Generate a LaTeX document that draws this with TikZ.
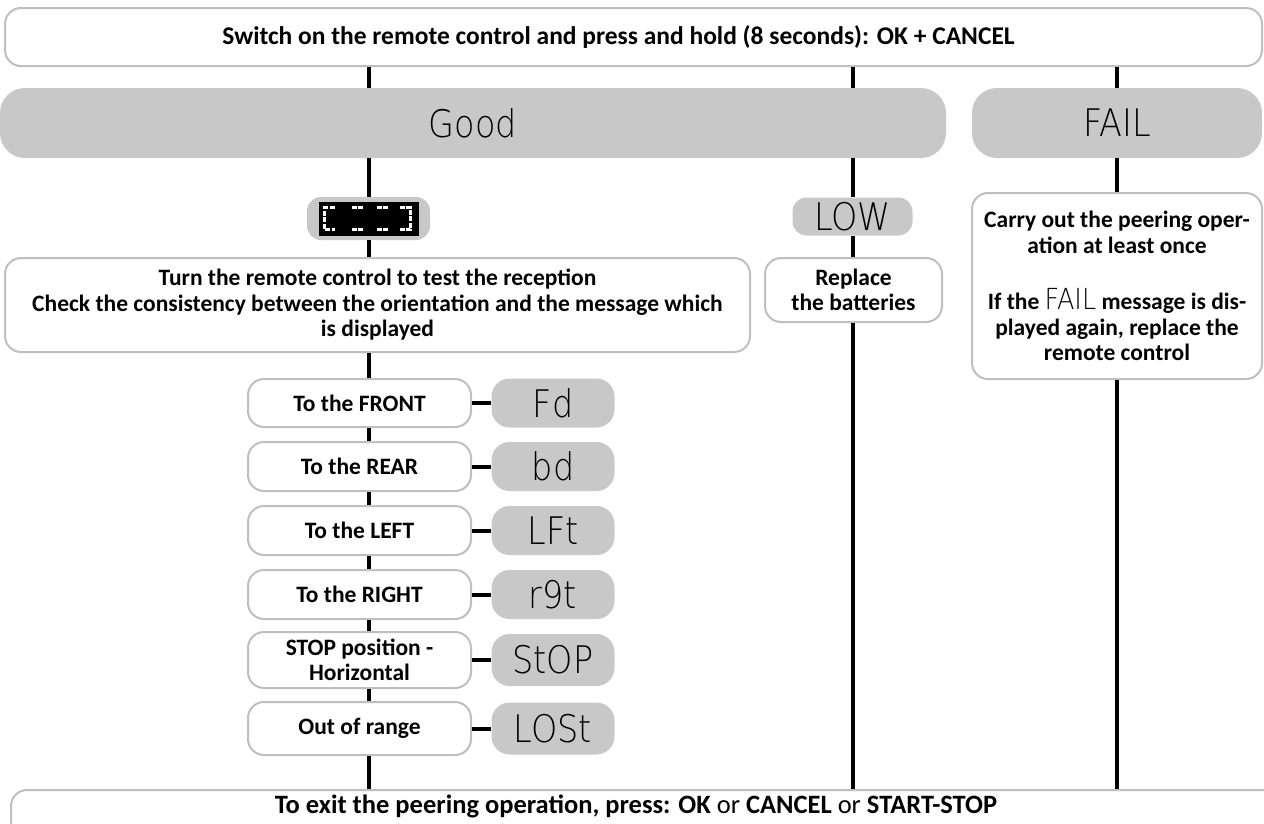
\documentclass[tikz,border=0pt]{standalone}
\usepackage{fontspec}
\setmainfont{Carlito}
\newfontfamily\seg{DejaVu Sans}[UprightFont=* ExtraLight, FakeStretch=0.88]
\definecolor{boxgray}{HTML}{BFBFBF}
\definecolor{dispgray}{HTML}{C8C8C8}
\begin{document}
\begin{tikzpicture}[x=1pt,y=-1pt,
  wbox/.style={draw=boxgray, line width=2pt, rounded corners=16pt, fill=white,
    font=\bfseries\fontsize{23.5}{25.5}\selectfont, align=center, inner sep=0pt},
  gbox/.style={fill=dispgray, rounded corners=18pt, inner sep=0pt,
    font=\seg\fontsize{38}{38}\selectfont},
  conn/.style={line width=4pt, black},
  seg/.style={white, line width=3pt, dash pattern=on 5pt off 1.5pt}]
\useasboundingbox (0,0) rectangle (1264,823);

% top
\node[wbox, minimum width=1257, minimum height=58, font=\bfseries\fontsize{25.5}{27}\selectfont] (top) at (633.5,37)
  {\hspace*{-30pt}Switch on the remote control and press and hold (8 seconds): OK + CANCEL};
% result bars
\node[gbox, rounded corners=25pt, minimum width=946, minimum height=70] (good) at (473,123) {Good};
\node[gbox, rounded corners=25pt, minimum width=290, minimum height=70] (fail) at (1117,123) {FAIL};

% black display
\node[gbox, rounded corners=14pt, minimum width=123, minimum height=43] (disp) at (368.5,218.5) {};
\node[fill=black, minimum width=100, minimum height=34, inner sep=0pt] (dispin) at (disp.center) {};
\begin{scope}[shift={(dispin.center)}]
  \draw[seg] (-34,-11) -- (-44,-11) -- (-44,11) -- (-34,11);
  \draw[seg] (-17,-11) -- (-6,-11);
  \draw[seg] (-17,11) -- (-6,11);
  \draw[seg] (8,-11) -- (20,-11);
  \draw[seg] (8,11) -- (20,11);
  \draw[seg] (31,-11) -- (42,-11) -- (42,11) -- (31,11);
\end{scope}

\node[gbox, rounded corners=14pt, minimum width=120, minimum height=38] (low) at (852.5,216.5) {LOW};

\node[wbox, minimum width=745, minimum height=94] (turn) at (377.5,305)
  {Turn the remote control to test the reception\\
   Check the consistency between the orientation and the message which\\
   is displayed};
\node[wbox, minimum width=177, minimum height=64] (repl) at (853.5,290)
  {Replace\\the batteries};
\node[wbox, minimum width=290, minimum height=186] (failtxt) at (1117,286)
  {Carry out the peering oper-\\ation at least once\\[31pt]
   If the {\mdseries\seg\fontsize{29}{29}\selectfont FAIL} message is dis-\\
   played again, replace the\\remote control};

% rows
\node[wbox, minimum width=223, minimum height=48] (front) at (359.5,403) {To the FRONT};
\node[gbox, minimum width=123, minimum height=49] (fd) at (553,403) {Fd};
\node[wbox, minimum width=223, minimum height=49] (rear) at (359.5,466.5) {To the REAR};
\node[gbox, minimum width=123, minimum height=49] (bd) at (553,466.5) {bd};
\node[wbox, minimum width=223, minimum height=49] (left) at (359.5,530.5) {To the LEFT};
\node[gbox, minimum width=123, minimum height=49] (lft) at (553,530.5) {LFt};
\node[wbox, minimum width=223, minimum height=49] (right) at (359.5,594.5) {To the RIGHT};
\node[gbox, minimum width=123, minimum height=49] (rgt) at (553,594.5) {r9t};
\node[wbox, minimum width=223, minimum height=56] (stop) at (359.5,660) {STOP position -\\Horizontal};
\node[gbox, minimum width=123, minimum height=52] (stp) at (553,660) {StOP};
\node[wbox, minimum width=223, minimum height=53] (out) at (359.5,728.5) {Out of range};
\node[gbox, minimum width=123, minimum height=52] (lost) at (553,728.5) {LOSt};

% bottom
\node[wbox, anchor=north west, minimum width=1290, inner ysep=6pt, text height=17pt, text depth=45pt,
      font=\bfseries\fontsize{26.5}{28}\selectfont] (bot) at (10,789)
  {\hspace*{-40pt}To exit the peering operation, press: OK {\mdseries or} CANCEL {\mdseries or} START-STOP};

% connectors
\draw[conn] (top.south -| disp) -- (good.north -| disp);
\draw[conn] (top.south -| low) -- (good.north -| low);
\draw[conn] (top.south -| failtxt) -- (fail.north -| failtxt);
\draw[conn] (good.south -| disp) -- (disp.north);
\draw[conn] (disp.south) -- (turn.north -| disp);
\draw[conn] (good.south -| low) -- (low.north);
\draw[conn] (low.south) -- (repl.north -| low);
\draw[conn] (fail.south -| failtxt) -- (failtxt.north);
\draw[conn] (turn.south -| disp) -- (front.north -| disp);
\draw[conn] (front.south -| disp) -- (rear.north -| disp);
\draw[conn] (rear.south -| disp) -- (left.north -| disp);
\draw[conn] (left.south -| disp) -- (right.north -| disp);
\draw[conn] (right.south -| disp) -- (stop.north -| disp);
\draw[conn] (stop.south -| disp) -- (out.north -| disp);
\draw[conn] (out.south -| disp) -- (bot.north -| disp);
\draw[conn] (repl.south -| low) -- (bot.north -| low);
\draw[conn] (failtxt.south) -- (bot.north -| failtxt);
\draw[conn] (front.east) -- (fd.west);
\draw[conn] (rear.east) -- (bd.west);
\draw[conn] (left.east) -- (lft.west);
\draw[conn] (right.east) -- (rgt.west);
\draw[conn] (stop.east) -- (stp.west);
\draw[conn] (out.east) -- (lost.west);
\end{tikzpicture}
\end{document}
